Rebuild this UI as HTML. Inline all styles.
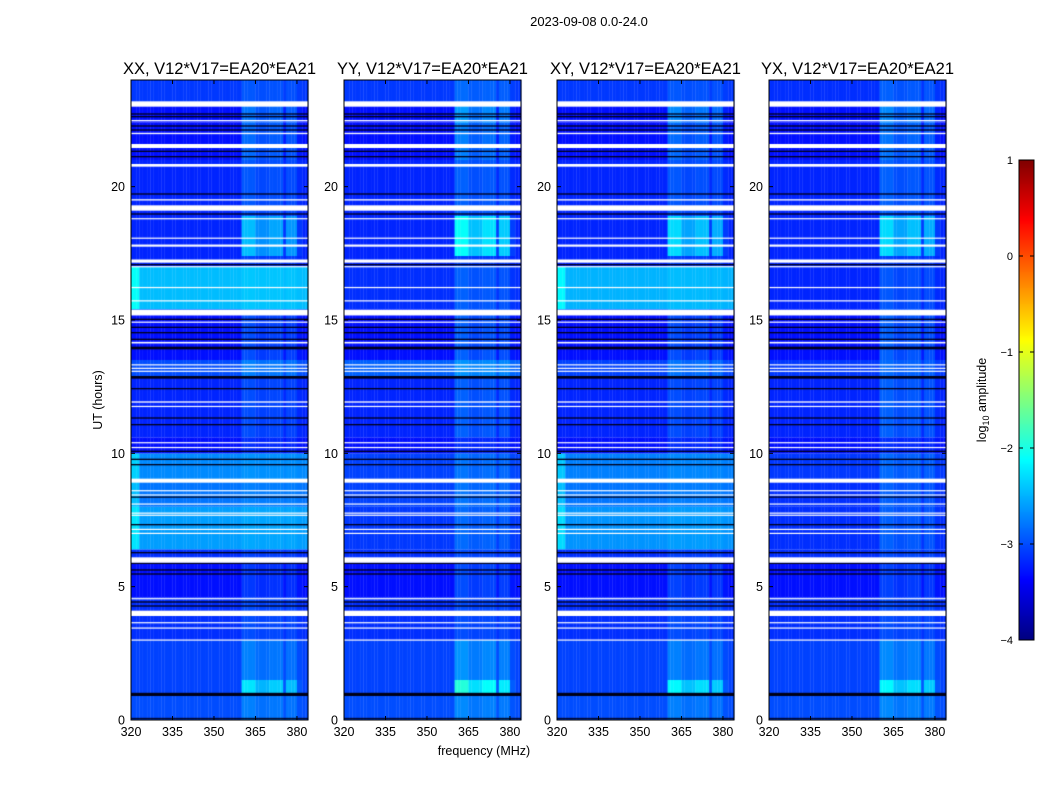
<!DOCTYPE html>
<html><head><meta charset="utf-8"><style>
body{margin:0;background:#fff;font-family:"Liberation Sans",sans-serif;}
#wrap{position:relative;width:1050px;height:800px;overflow:hidden;}
canvas,svg{position:absolute;left:0;top:0;}
</style></head><body>
<div id="wrap">
<canvas id="cv" width="1050" height="800"></canvas>
<svg id="sv" width="1050" height="800"></svg>
</div>
<script>
// ---- data ----
const panelTitles = ["XX, V12*V17=EA20*EA21","YY, V12*V17=EA20*EA21","XY, V12*V17=EA20*EA21","YX, V12*V17=EA20*EA21"];
const xTicks = [320,335,350,365,380];
const yTicks = [0,5,10,15,20];
const cbTicks = [1,0,-1,-2,-3,-4];
const freqChannels = [];
for (let f = 320; f < 384; f += 1) freqChannels.push(f);
const rfiBandLo = [360.5,365.5,370.2,375.7];
const rfiBandHi = [364.8,369.5,374.6,380.0];
const rfiBandGain = [1.0,0.7,0.85,0.75];
const edgeBoostLo = [320,321];
const edgeBoostHi = [323,322];
const segT0 = [0,1.0,1.5,3.0,4.6,5.9,6.4,8.0,9.0,10.0,10.6,12.9,13.5,15.4,17.0,17.4,18.9,21.0,22.4,23.1];
const segT1 = [1.0,1.5,3.0,4.6,5.9,6.4,8.0,9.0,10.0,10.6,12.9,13.5,15.4,17.0,17.4,18.9,21.0,22.4,23.1,24.0];
const baseXX = [-3.0,-3.05,-3.05,-3.15,-3.3,-3.15,-2.6,-2.8,-2.7,-3.3,-3.2,-3.0,-3.3,-2.45,-3.2,-3.2,-3.2,-3.3,-3.3,-3.1];
const baseYY = [-3.0,-3.05,-3.05,-3.15,-3.3,-3.15,-3.1,-3.05,-3.05,-3.3,-3.2,-2.9,-3.3,-3.15,-3.2,-3.2,-3.2,-3.3,-3.3,-3.1];
const baseXY = [-3.0,-3.05,-3.05,-3.15,-3.3,-3.15,-2.65,-2.8,-2.75,-3.3,-3.2,-3.05,-3.3,-2.5,-3.2,-3.2,-3.2,-3.3,-3.3,-3.1];
const baseYX = [-3.0,-3.05,-3.05,-3.15,-3.3,-3.15,-3.15,-3.15,-3.1,-3.3,-3.2,-3.1,-3.3,-3.2,-3.2,-3.2,-3.2,-3.3,-3.3,-3.15];
const rfiXX = [0.25,0.8,0.3,0.15,0.2,0.1,0.05,0.05,0.05,0.15,0.2,0.25,0.3,0.05,0.15,0.75,0.25,0.45,0.5,0.15];
const rfiYY = [0.3,1.1,0.4,0.15,0.3,0.15,0.25,0.25,0.25,0.15,0.3,0.25,0.4,0.25,0.15,1.1,0.3,0.55,0.7,0.25];
const rfiXY = [0.25,0.9,0.3,0.15,0.25,0.1,0.05,0.05,0.05,0.15,0.2,0.25,0.3,0.05,0.15,0.9,0.25,0.45,0.6,0.15];
const rfiYX = [0.3,0.9,0.35,0.15,0.25,0.15,0.25,0.25,0.25,0.15,0.3,0.25,0.4,0.25,0.15,0.9,0.3,0.5,0.6,0.25];
const flagT0 = [23.0,22.45,21.97,21.45,20.75,19.48,19.1,18.78,18.05,17.75,17.15,16.98,16.2,15.7,15.17,14.9,14.12,13.3,13.17,13.06,11.9,11.74,10.38,10.2,8.9,8.58,8.42,8.08,7.75,7.66,7.13,6.98,5.9,4.53,3.9,3.63,3.43,2.98];
const flagT1 = [23.2,22.5,22.02,21.6,20.85,19.53,19.3,18.82,18.09,17.83,17.27,17.02,16.24,15.74,15.38,14.94,14.18,13.34,13.21,13.1,11.95,11.78,10.42,10.24,9.05,8.62,8.46,8.12,7.78,7.7,7.17,7.02,6.1,4.57,4.1,3.67,3.47,3.02];
const darkT0 = [0.9,0.04,21.3,21.1,22.1,22.25,22.6,22.7,19.7,18.95,17.05,15.0,14.7,14.5,14.25,13.9,12.8,12.4,11.3,11.05,10.05,9.75,9.55,8.35,7.3,6.25,5.85,5.6,5.45,4.4,4.25];
const darkT1 = [1.02,0.08,21.35,21.15,22.15,22.3,22.65,22.75,19.75,19.0,17.1,15.05,14.75,14.55,14.3,14.0,12.9,12.45,11.35,11.1,10.1,9.8,9.6,8.38,7.35,6.3,5.9,5.65,5.5,4.45,4.3];
const panelBase = [baseXX,baseYY,baseXY,baseYX];
const panelRfi = [rfiXX,rfiYY,rfiXY,rfiYX];

// ---- layout ----
const panelLeft = [131,344,557,769];
const PW = 177, PT = 80, PH = 640;
const fMin = 320, fMax = 384, tMin = 0, tMax = 24;
function xs(p,f){return panelLeft[p] + (f-fMin)/(fMax-fMin)*PW;}
function ys(t){return PT + PH - (t-tMin)/(tMax-tMin)*PH;}
const vmin=-4, vmax=1;
function jet(v){
  let n=(v-vmin)/(vmax-vmin); n=Math.max(0,Math.min(1,n));
  const c=x=>Math.round(255*Math.max(0,Math.min(1,x)));
  return `rgb(${c(1.5-Math.abs(4*n-3))},${c(1.5-Math.abs(4*n-2))},${c(1.5-Math.abs(4*n-1))})`;
}
function rfiProfile(f){
  for(let i=0;i<rfiBandLo.length;i++) if(f+0.5>=rfiBandLo[i]&&f+0.5<=rfiBandHi[i]) return rfiBandGain[i];
  return (f>=360&&f<=381)?0.12:0;
}
function edgeBoost(f){for(let i=0;i<edgeBoostLo.length;i++) if(f>=edgeBoostLo[i]&&f<edgeBoostHi[i]) return 0.35; return 0;}

const ctx=document.getElementById('cv').getContext('2d');
for(let p=0;p<4;p++){
  const base=panelBase[p], rfi=panelRfi[p];
  for(let s=0;s<segT0.length;s++){
    const y0=ys(segT1[s]), y1=ys(segT0[s]);
    for(const f of freqChannels){
      const bb = base[s] > -2.9 ? edgeBoost(f) : 0;
      const v = base[s] + rfi[s]*rfiProfile(f) + bb;
      ctx.fillStyle=jet(v);
      const x0=xs(p,f), x1=xs(p,f+1);
      ctx.fillRect(x0,y0,x1-x0+0.3,y1-y0);
    }
  }
  ctx.fillStyle='#000018';
  for(let i=0;i<darkT0.length;i++){const a=ys(darkT1[i]),b=ys(darkT0[i]);ctx.fillRect(panelLeft[p],a,PW,Math.max(1.2,b-a));}
  ctx.fillStyle='#ffffff';
  for(let i=0;i<flagT0.length;i++){const a=ys(flagT1[i]),b=ys(flagT0[i]);ctx.fillRect(panelLeft[p],a,PW,Math.max(1.2,b-a));}
}
// colorbar
const cbX=1019,cbW=15,cbT=160,cbH=480;
for(let i=0;i<cbH;i++){ctx.fillStyle=jet(vmax-(i+0.5)/cbH*(vmax-vmin));ctx.fillRect(cbX,cbT+i,cbW,1);}

// ---- svg overlay ----
const sv=document.getElementById('sv');
const NS='http://www.w3.org/2000/svg';
function mk(tag,attrs,txt){const e=document.createElementNS(NS,tag);for(const k in attrs)e.setAttribute(k,attrs[k]);if(txt!==undefined)e.textContent=txt;sv.appendChild(e);return e;}
let e=mk('text',{x:589,y:26,'text-anchor':'middle','font-size':13,'font-family':'Liberation Sans'},'2023-09-08 0.0-24.0');


for(let p=0;p<4;p++){
  const L=panelLeft[p];
  e=mk('rect',{x:L,y:PT,width:PW,height:PH,fill:'none',stroke:'#000','stroke-width':1});
  
  
  e=mk('text',{x:L+PW/2,y:74,'text-anchor':'middle','font-size':16.5,'font-family':'Liberation Sans'},panelTitles[p]);
  
  
  for(const f of xTicks){
    const x=xs(p,f);
    mk('line',{x1:x,x2:x,y1:PT+PH,y2:PT+PH-4,stroke:'#000'});
    mk('line',{x1:x,x2:x,y1:PT,y2:PT+4,stroke:'#000'});
    e=mk('text',{x:x,y:PT+PH+16,'text-anchor':'middle','font-size':12.5,'font-family':'Liberation Sans'},f);
    
    
  }
  for(const t of yTicks){
    const y=ys(t);
    mk('line',{x1:L,x2:L+4,y1:y,y2:y,stroke:'#000'});
    mk('line',{x1:L+PW,x2:L+PW-4,y1:y,y2:y,stroke:'#000'});
    e=mk('text',{x:L-6,y:y+4.5,'text-anchor':'end','font-size':12.5,'font-family':'Liberation Sans'},t);
    
    
  }
}
e=mk('text',{x:484,y:755,'text-anchor':'middle','font-size':12.5,'font-family':'Liberation Sans'},'frequency (MHz)');


e=mk('text',{x:0,y:0,'text-anchor':'middle','font-size':12.5,'font-family':'Liberation Sans',transform:'translate(102,400) rotate(-90)'},'UT (hours)');


e=mk('rect',{x:cbX,y:cbT,width:cbW,height:cbH,fill:'none',stroke:'#000'});


for(const v of cbTicks){
  const y=cbT+(vmax-v)/(vmax-vmin)*cbH;
  mk('line',{x1:cbX,x2:cbX+4,y1:y,y2:y,stroke:'#000'});
  mk('line',{x1:cbX+cbW,x2:cbX+cbW-4,y1:y,y2:y,stroke:'#000'});
  e=mk('text',{x:1013,y:y+4,'text-anchor':'end','font-size':11,'font-family':'Liberation Sans'},v<0?'\u2212'+(-v):String(v));
  
  
}
e=mk('text',{x:0,y:0,'text-anchor':'middle','font-size':12.5,'font-family':'Liberation Sans',transform:'translate(986,400) rotate(-90)'});
e.innerHTML='log<tspan font-size="9" dy="3">10</tspan><tspan dy="-3"> amplitude</tspan>';


</script>
</body></html>
